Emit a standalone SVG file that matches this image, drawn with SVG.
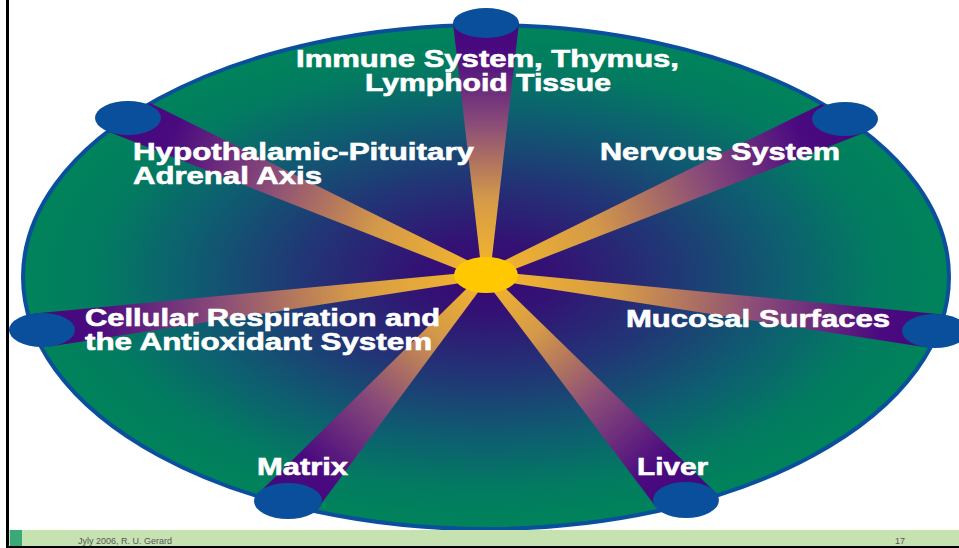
<svg xmlns="http://www.w3.org/2000/svg" width="959" height="548" viewBox="0 0 959 548">
<defs>
<style>
.lbl{font-family:"Liberation Sans",Arial,sans-serif;font-weight:bold;font-size:23px;fill:#ffffff;stroke:#ffffff;stroke-width:0.6px}
.foot{font-family:"Liberation Sans",Arial,sans-serif;font-size:9px;fill:#555555}
.node{fill:#0a4f9c}
</style>
<radialGradient id="bg" cx="0.5" cy="0.5" r="0.5">
<stop offset="0" stop-color="#3a0676"/>
<stop offset="0.15" stop-color="#331274"/>
<stop offset="0.4" stop-color="#213676"/>
<stop offset="0.65" stop-color="#0d5f70"/>
<stop offset="0.85" stop-color="#027c60"/>
<stop offset="1" stop-color="#00835a"/>
</radialGradient>
<linearGradient id="g1" gradientUnits="userSpaceOnUse" x1="486" y1="23" x2="486" y2="275"><stop offset="0" stop-color="#45087c"/><stop offset="0.12" stop-color="#4a0a80"/><stop offset="0.4" stop-color="#8a4c78"/><stop offset="0.7" stop-color="#d59a48"/><stop offset="1" stop-color="#f6b82a"/></linearGradient>
<linearGradient id="g2" gradientUnits="userSpaceOnUse" x1="845" y1="119" x2="486" y2="275"><stop offset="0" stop-color="#45087c"/><stop offset="0.12" stop-color="#4a0a80"/><stop offset="0.4" stop-color="#8a4c78"/><stop offset="0.7" stop-color="#d59a48"/><stop offset="1" stop-color="#f6b82a"/></linearGradient>
<linearGradient id="g3" gradientUnits="userSpaceOnUse" x1="128" y1="118" x2="486" y2="275"><stop offset="0" stop-color="#45087c"/><stop offset="0.12" stop-color="#4a0a80"/><stop offset="0.4" stop-color="#8a4c78"/><stop offset="0.7" stop-color="#d59a48"/><stop offset="1" stop-color="#f6b82a"/></linearGradient>
<linearGradient id="g4" gradientUnits="userSpaceOnUse" x1="42" y1="330" x2="486" y2="275"><stop offset="0" stop-color="#45087c"/><stop offset="0.12" stop-color="#4a0a80"/><stop offset="0.4" stop-color="#8a4c78"/><stop offset="0.7" stop-color="#d59a48"/><stop offset="1" stop-color="#f6b82a"/></linearGradient>
<linearGradient id="g5" gradientUnits="userSpaceOnUse" x1="935" y1="331" x2="486" y2="275"><stop offset="0" stop-color="#45087c"/><stop offset="0.12" stop-color="#4a0a80"/><stop offset="0.4" stop-color="#8a4c78"/><stop offset="0.7" stop-color="#d59a48"/><stop offset="1" stop-color="#f6b82a"/></linearGradient>
<linearGradient id="g6" gradientUnits="userSpaceOnUse" x1="288" y1="501" x2="486" y2="275"><stop offset="0" stop-color="#45087c"/><stop offset="0.15" stop-color="#4a0a80"/><stop offset="0.45" stop-color="#8a4c78"/><stop offset="0.75" stop-color="#d59a48"/><stop offset="1" stop-color="#f6b82a"/></linearGradient>
<linearGradient id="g7" gradientUnits="userSpaceOnUse" x1="686" y1="500" x2="486" y2="275"><stop offset="0" stop-color="#45087c"/><stop offset="0.15" stop-color="#4a0a80"/><stop offset="0.45" stop-color="#8a4c78"/><stop offset="0.75" stop-color="#d59a48"/><stop offset="1" stop-color="#f6b82a"/></linearGradient>
</defs>
<rect x="0" y="0" width="959" height="548" fill="#ffffff"/>
<ellipse id="wheel" cx="486" cy="277" rx="463" ry="252" fill="url(#bg)" stroke="#0a4f9c" stroke-width="4"/>
<g id="connectors">
<polygon points="482,275 490,275 519,23 453,23" fill="url(#g1)"/>
<polygon points="484,270.5 488,279.5 866.3,132 822,104" fill="url(#g2)"/>
<polygon points="488,270.5 484,279.5 106.6,130.9 150,103" fill="url(#g3)"/>
<polygon points="485.5,271 486.5,279 49.7,346.5 34.3,313.5" fill="url(#g4)"/>
<polygon points="486.5,271 485.5,279 927.2,347.5 942.8,314.5" fill="url(#g5)"/>
<polygon points="483,272.4 489,277.6 318.1,508 257.9,494" fill="url(#g6)"/>
<polygon points="489,272.3 483,277.7 656,507.1 716,492.9" fill="url(#g7)"/>
</g>
<g id="center"><ellipse cx="486" cy="275" rx="32" ry="18" fill="#ffc800"/></g>
<g id="immune"><ellipse class="node" cx="486" cy="23" rx="33" ry="15"/><text class="lbl" x="296" y="67" textLength="383" lengthAdjust="spacingAndGlyphs">Immune System, Thymus,</text><text class="lbl" x="365" y="91" textLength="246" lengthAdjust="spacingAndGlyphs">Lymphoid Tissue</text></g>
<g id="nervous"><ellipse class="node" cx="845" cy="119" rx="33" ry="17"/><text class="lbl" x="600" y="160" textLength="240" lengthAdjust="spacingAndGlyphs">Nervous System</text></g>
<g id="hpa"><ellipse class="node" cx="128" cy="118" rx="33" ry="17"/><text class="lbl" x="133" y="160" textLength="341" lengthAdjust="spacingAndGlyphs">Hypothalamic-Pituitary</text><text class="lbl" x="133" y="184" textLength="189" lengthAdjust="spacingAndGlyphs">Adrenal Axis</text></g>
<g id="cellular"><ellipse class="node" cx="42" cy="330" rx="33" ry="17"/><text class="lbl" x="85" y="326" textLength="355" lengthAdjust="spacingAndGlyphs">Cellular Respiration and</text><text class="lbl" x="85" y="350" textLength="347" lengthAdjust="spacingAndGlyphs">the Antioxidant System</text></g>
<g id="mucosal"><ellipse class="node" cx="935" cy="331" rx="33" ry="17"/><text class="lbl" x="626" y="327" textLength="264" lengthAdjust="spacingAndGlyphs">Mucosal Surfaces</text></g>
<g id="matrix"><ellipse class="node" cx="288" cy="501" rx="34" ry="18"/><text class="lbl" x="257" y="475" textLength="91" lengthAdjust="spacingAndGlyphs">Matrix</text></g>
<g id="liver"><ellipse class="node" cx="686" cy="500" rx="33" ry="18"/><text class="lbl" x="637" y="475" textLength="71" lengthAdjust="spacingAndGlyphs">Liver</text></g>
<g id="footer">
<rect x="9" y="530" width="950" height="16" fill="#c6e2b0"/>
<rect x="10" y="530" width="12" height="16" fill="#3aa978"/>
<text class="foot" x="78" y="544">Jyly 2006, R. U. Gerard</text>
<text class="foot" x="895" y="544">17</text>
<rect x="6" y="0" width="3" height="548" fill="#000000"/>
<rect x="6" y="546" width="953" height="2" fill="#000000"/>
</g>
</svg>
